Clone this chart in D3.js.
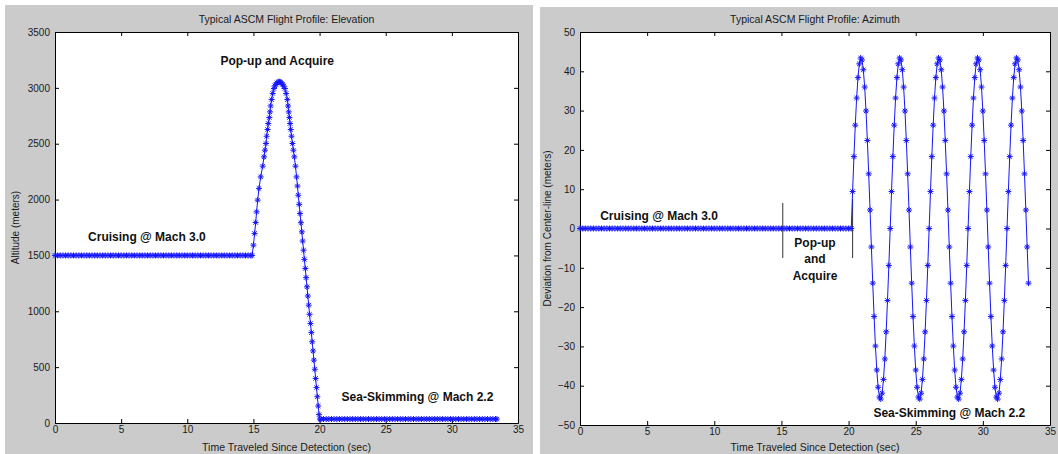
<!DOCTYPE html>
<html>
<head>
<meta charset="utf-8">
<script src="https://cdn.jsdelivr.net/npm/d3@7"></script>
<style>
  html, body { margin: 0; padding: 0; background: #ffffff; }
  svg { display: block; font-family: "Liberation Sans", Arial, sans-serif; }
</style>
</head>
<body>
<svg id="chart" width="1058" height="454"></svg>
<script>
// ---- Elevation profile: [time (s), altitude (m)] ----
const elevation = [
  [0,1500],[0.2,1500],[0.4,1500],[0.6,1500],[0.8,1500],[1,1500],[1.2,1500],[1.4,1500],[1.6,1500],[1.8,1500],
  [2,1500],[2.2,1500],[2.4,1500],[2.6,1500],[2.8,1500],[3,1500],[3.2,1500],[3.4,1500],[3.6,1500],[3.8,1500],
  [4,1500],[4.2,1500],[4.4,1500],[4.6,1500],[4.8,1500],[5,1500],[5.2,1500],[5.4,1500],[5.6,1500],[5.8,1500],
  [6,1500],[6.2,1500],[6.4,1500],[6.6,1500],[6.8,1500],[7,1500],[7.2,1500],[7.4,1500],[7.6,1500],[7.8,1500],
  [8,1500],[8.2,1500],[8.4,1500],[8.6,1500],[8.8,1500],[9,1500],[9.2,1500],[9.4,1500],[9.6,1500],[9.8,1500],
  [10,1500],[10.2,1500],[10.4,1500],[10.6,1500],[10.8,1500],[11,1500],[11.2,1500],[11.4,1500],[11.6,1500],[11.8,1500],
  [12,1500],[12.2,1500],[12.4,1500],[12.6,1500],[12.8,1500],[13,1500],[13.2,1500],[13.4,1500],[13.6,1500],[13.8,1500],
  [14,1500],[14.2,1500],[14.4,1500],[14.6,1500],[14.8,1500],[14.9,1500],
  [15.0,1592],[15.09,1697],[15.17,1795],[15.24,1890],[15.32,1995],[15.42,2100],[15.55,2203],[15.7,2299],
  [15.8,2382],[15.87,2442],[15.95,2502],[16.0,2567],[16.07,2627],[16.12,2681],[16.2,2734],[16.25,2785],
  [16.3,2838],[16.38,2895],[16.46,2950],[16.55,2994],[16.62,3018],[16.7,3032],[16.78,3045],[16.88,3053],
  [16.96,3055],[17.04,3050],[17.12,3042],[17.2,3032],[17.29,3015],[17.38,2994],[17.47,2950],[17.56,2895],
  [17.62,2838],[17.67,2785],[17.72,2734],[17.77,2681],[17.82,2627],[17.88,2567],[17.95,2502],[18.02,2442],
  [18.09,2382],[18.18,2299],[18.26,2203],
  [18.33,2121],[18.39,2039],[18.46,1957],[18.52,1875],[18.59,1793],[18.66,1711],[18.72,1629],[18.79,1547],
  [18.85,1465],[18.92,1383],[18.98,1301],[19.05,1219],[19.11,1137],[19.18,1055],[19.24,973],[19.31,891],
  [19.38,809],[19.44,727],[19.51,645],[19.57,563],[19.64,481],[19.70,399],[19.77,317],[19.83,235],
  [19.90,152],[19.96,75],[20.02,35],
  [20.1,35],[20.3,35],[20.5,35],[20.7,35],[20.9,35],[21.1,35],[21.3,35],[21.5,35],[21.7,35],[21.9,35],
  [22.1,35],[22.3,35],[22.5,35],[22.7,35],[22.9,35],[23.1,35],[23.3,35],[23.5,35],[23.7,35],[23.9,35],
  [24.1,35],[24.3,35],[24.5,35],[24.7,35],[24.9,35],[25.1,35],[25.3,35],[25.5,35],[25.7,35],[25.9,35],
  [26.1,35],[26.3,35],[26.5,35],[26.7,35],[26.9,35],[27.1,35],[27.3,35],[27.5,35],[27.7,35],[27.9,35],
  [28.1,35],[28.3,35],[28.5,35],[28.7,35],[28.9,35],[29.1,35],[29.3,35],[29.5,35],[29.7,35],[29.9,35],
  [30.1,35],[30.3,35],[30.5,35],[30.7,35],[30.9,35],[31.1,35],[31.3,35],[31.5,35],[31.7,35],[31.9,35],
  [32.1,35],[32.3,35],[32.5,35],[32.7,35],[32.9,35],[33.1,35],[33.3,35],[33.4,35]
];

// ---- Azimuth profile: [time (s), deviation from center-line (m)] ----
const azimuth = [
  [0,0],[0.2,0],[0.4,0],[0.6,0],[0.8,0],[1,0],[1.2,0],[1.4,0],[1.6,0],[1.8,0],
  [2,0],[2.2,0],[2.4,0],[2.6,0],[2.8,0],[3,0],[3.2,0],[3.4,0],[3.6,0],[3.8,0],
  [4,0],[4.2,0],[4.4,0],[4.6,0],[4.8,0],[5,0],[5.2,0],[5.4,0],[5.6,0],[5.8,0],
  [6,0],[6.2,0],[6.4,0],[6.6,0],[6.8,0],[7,0],[7.2,0],[7.4,0],[7.6,0],[7.8,0],
  [8,0],[8.2,0],[8.4,0],[8.6,0],[8.8,0],[9,0],[9.2,0],[9.4,0],[9.6,0],[9.8,0],
  [10,0],[10.2,0],[10.4,0],[10.6,0],[10.8,0],[11,0],[11.2,0],[11.4,0],[11.6,0],[11.8,0],
  [12,0],[12.2,0],[12.4,0],[12.6,0],[12.8,0],[13,0],[13.2,0],[13.4,0],[13.6,0],[13.8,0],
  [14,0],[14.2,0],[14.4,0],[14.6,0],[14.8,0],[15,0],[15.2,0],[15.4,0],[15.6,0],[15.8,0],
  [16,0],[16.2,0],[16.4,0],[16.6,0],[16.8,0],[17,0],[17.2,0],[17.4,0],[17.6,0],[17.8,0],
  [18,0],[18.2,0],[18.4,0],[18.6,0],[18.8,0],[19,0],[19.2,0],[19.4,0],[19.6,0],[19.8,0],
  [20,0],[20.2,0],
  [20.3,9.4],[20.4,18.3],[20.5,26.3],[20.6,33.2],[20.7,38.4],[20.8,41.9],[20.9,43.4],[21.0,42.9],
  [21.1,40.4],[21.2,36.0],[21.3,29.9],[21.4,22.4],[21.5,13.9],[21.6,4.7],[21.7,-4.7],[21.8,-13.9],
  [21.9,-22.4],[22.0,-29.9],[22.1,-36.0],[22.2,-40.4],[22.3,-42.9],[22.4,-43.4],[22.5,-41.9],[22.6,-38.4],
  [22.7,-33.2],[22.8,-26.3],[22.9,-18.3],[23.0,-9.4],
  [23.1,0],[23.2,9.4],[23.3,18.3],[23.4,26.3],[23.5,33.2],[23.6,38.4],[23.7,41.9],[23.8,43.4],[23.9,42.9],
  [24.0,40.4],[24.1,36.0],[24.2,29.9],[24.3,22.4],[24.4,13.9],[24.5,4.7],[24.6,-4.7],[24.7,-13.9],
  [24.8,-22.4],[24.9,-29.9],[25.0,-36.0],[25.1,-40.4],[25.2,-42.9],[25.3,-43.4],[25.4,-41.9],[25.5,-38.4],
  [25.6,-33.2],[25.7,-26.3],[25.8,-18.3],[25.9,-9.4],
  [26.0,0],[26.1,9.4],[26.2,18.3],[26.3,26.3],[26.4,33.2],[26.5,38.4],[26.6,41.9],[26.7,43.4],[26.8,42.9],
  [26.9,40.4],[27.0,36.0],[27.1,29.9],[27.2,22.4],[27.3,13.9],[27.4,4.7],[27.5,-4.7],[27.6,-13.9],
  [27.7,-22.4],[27.8,-29.9],[27.9,-36.0],[28.0,-40.4],[28.1,-42.9],[28.2,-43.4],[28.3,-41.9],[28.4,-38.4],
  [28.5,-33.2],[28.6,-26.3],[28.7,-18.3],[28.8,-9.4],
  [28.9,0],[29.0,9.4],[29.1,18.3],[29.2,26.3],[29.3,33.2],[29.4,38.4],[29.5,41.9],[29.6,43.4],[29.7,42.9],
  [29.8,40.4],[29.9,36.0],[30.0,29.9],[30.1,22.4],[30.2,13.9],[30.3,4.7],[30.4,-4.7],[30.5,-13.9],
  [30.6,-22.4],[30.7,-29.9],[30.8,-36.0],[30.9,-40.4],[31.0,-42.9],[31.1,-43.4],[31.2,-41.9],[31.3,-38.4],
  [31.4,-33.2],[31.5,-26.3],[31.6,-18.3],[31.7,-9.4],
  [31.8,0],[31.9,9.4],[32.0,18.3],[32.1,26.3],[32.2,33.2],[32.3,38.4],[32.4,41.9],[32.5,43.4],[32.6,42.9],
  [32.7,40.4],[32.8,36.0],[32.9,29.9],[33.0,22.4],[33.1,13.9],[33.2,4.7],[33.3,-4.7],[33.4,-13.9]
];

// Phase boundaries marked on the azimuth plot: [time, bottom, top]
const phaseMarks = [[15.1, -7.5, 6.5], [20.3, -7.5, 7.5]];

// Axis ticks
const timeTicks = [0, 5, 10, 15, 20, 25, 30, 35];
const altitudeTicks = [0, 500, 1000, 1500, 2000, 2500, 3000, 3500];
const deviationTicks = [-50, -40, -30, -20, -10, 0, 10, 20, 30, 40, 50];

// Annotations: [text lines, time, value, anchor]
const elevationNotes = [
  [["Cruising @ Mach 3.0"], 2.5, 1665, "start"],
  [["Pop-up and Acquire"], 16.8, 3245, "middle"],
  [["Sea-Skimming @ Mach 2.2"], 27.4, 235, "middle"]
];
const azimuthNotes = [
  [["Cruising @ Mach 3.0"], 1.5, 3.2, "start"],
  [["Pop-up", "and", "Acquire"], 17.5, -3.7, "middle"],
  [["Sea-Skimming @ Mach 2.2"], 27.5, -47.0, "middle"]
];

const svg = d3.select("#chart");
const BLUE = "#1515ff";
const plainNumber = d3.format("d");

function asteriskPath(pts, x, y, s) {
  const d = s * 0.72;
  let p = "";
  for (const [t, v] of pts) {
    const cx = x(t), cy = y(v);
    p += `M${cx - s},${cy}H${cx + s}M${cx},${cy - s}V${cy + s}` +
         `M${cx - d},${cy - d}L${cx + d},${cy + d}M${cx - d},${cy + d}L${cx + d},${cy - d}`;
  }
  return p;
}

function panel(cfg) {
  const g = svg.append("g");
  // figure background
  g.append("rect").attr("x", cfg.bg[0]).attr("y", cfg.bg[1])
    .attr("width", cfg.bg[2]).attr("height", cfg.bg[3]).attr("fill", "#cbcbcb");
  const [x0, y0, x1, y1] = cfg.plot;
  g.append("rect").attr("x", x0).attr("y", y0).attr("width", x1 - x0).attr("height", y1 - y0)
    .attr("fill", "#ffffff");

  const x = d3.scaleLinear().domain([0, 35]).range([x0, x1]);
  const y = d3.scaleLinear().domain(cfg.yDomain).range([y1, y0]);

  const styleAxis = sel => {
    sel.selectAll("path.domain").attr("stroke", "#000").attr("stroke-width", 1);
    sel.selectAll(".tick line").attr("stroke", "#000");
    sel.selectAll("text").attr("fill", "#1a1a1a").attr("font-size", 10)
      .attr("font-family", "'Liberation Sans', Arial, sans-serif");
  };

  g.append("g").attr("transform", `translate(0,${y1})`)
    .call(d3.axisBottom(x).tickValues(timeTicks).tickFormat(plainNumber)
      .tickSizeInner(-4).tickSizeOuter(0).tickPadding(3))
    .call(styleAxis);
  g.append("g").attr("transform", `translate(0,${y0})`)
    .call(d3.axisTop(x).tickValues(timeTicks).tickSizeInner(-4).tickSizeOuter(0).tickFormat(""))
    .call(styleAxis);
  g.append("g").attr("transform", `translate(${x0},0)`)
    .call(d3.axisLeft(y).tickValues(cfg.yTicks).tickFormat(plainNumber)
      .tickSizeInner(-4).tickSizeOuter(0).tickPadding(5))
    .call(styleAxis);
  g.append("g").attr("transform", `translate(${x1},0)`)
    .call(d3.axisRight(y).tickValues(cfg.yTicks).tickSizeInner(-4).tickSizeOuter(0).tickFormat(""))
    .call(styleAxis);

  // phase boundary marks
  (cfg.marks || []).forEach(([t, lo, hi]) => {
    g.append("line").attr("x1", x(t)).attr("x2", x(t)).attr("y1", y(lo)).attr("y2", y(hi))
      .attr("stroke", "#333").attr("stroke-width", 1);
  });

  // series line and markers
  const line = d3.line().x(d => x(d[0])).y(d => y(d[1]));
  g.append("path").datum(cfg.data).attr("d", line)
    .attr("fill", "none").attr("stroke", BLUE).attr("stroke-width", 1);
  g.append("path").attr("d", asteriskPath(cfg.data, x, y, 3))
    .attr("fill", "none").attr("stroke", BLUE).attr("stroke-width", 1);

  // titles
  const cx = (x0 + x1) / 2;
  g.append("text").attr("x", cx).attr("y", 23).attr("text-anchor", "middle")
    .attr("font-size", 10.5).attr("fill", "#1a1a1a").text(cfg.title);
  g.append("text").attr("x", cx).attr("y", 451).attr("text-anchor", "middle")
    .attr("font-size", 10.5).attr("fill", "#1a1a1a").text("Time Traveled Since Detection (sec)");
  g.append("text").attr("transform", `translate(${cfg.yLabelX},${(y0 + y1) / 2}) rotate(-90)`)
    .attr("text-anchor", "middle").attr("font-size", 10).attr("fill", "#1a1a1a").text(cfg.yLabel);

  // annotations
  cfg.notes.forEach(([lines, t, v, anchor]) => {
    const tx = g.append("text").attr("x", x(t)).attr("y", y(v))
      .attr("text-anchor", anchor).attr("font-size", 12).attr("font-weight", "bold")
      .attr("fill", "#111");
    lines.forEach((ln, i) => {
      tx.append("tspan").attr("x", x(t)).attr("dy", i === 0 ? "0.35em" : "1.35em").text(ln);
    });
  });
}

panel({
  bg: [5, 5, 528, 449],
  plot: [55, 32, 518, 423],
  yDomain: [0, 3500],
  yTicks: altitudeTicks,
  data: elevation,
  title: "Typical ASCM Flight Profile: Elevation",
  yLabel: "Altitude (meters)",
  yLabelX: 19,
  notes: elevationNotes
});

panel({
  bg: [540, 7, 518, 447],
  plot: [580, 32, 1050, 425],
  yDomain: [-50, 50],
  yTicks: deviationTicks,
  data: azimuth,
  marks: phaseMarks,
  title: "Typical ASCM Flight Profile: Azimuth",
  yLabel: "Deviation from Center-line (meters)",
  yLabelX: 551,
  notes: azimuthNotes
});
</script>
</body>
</html>
